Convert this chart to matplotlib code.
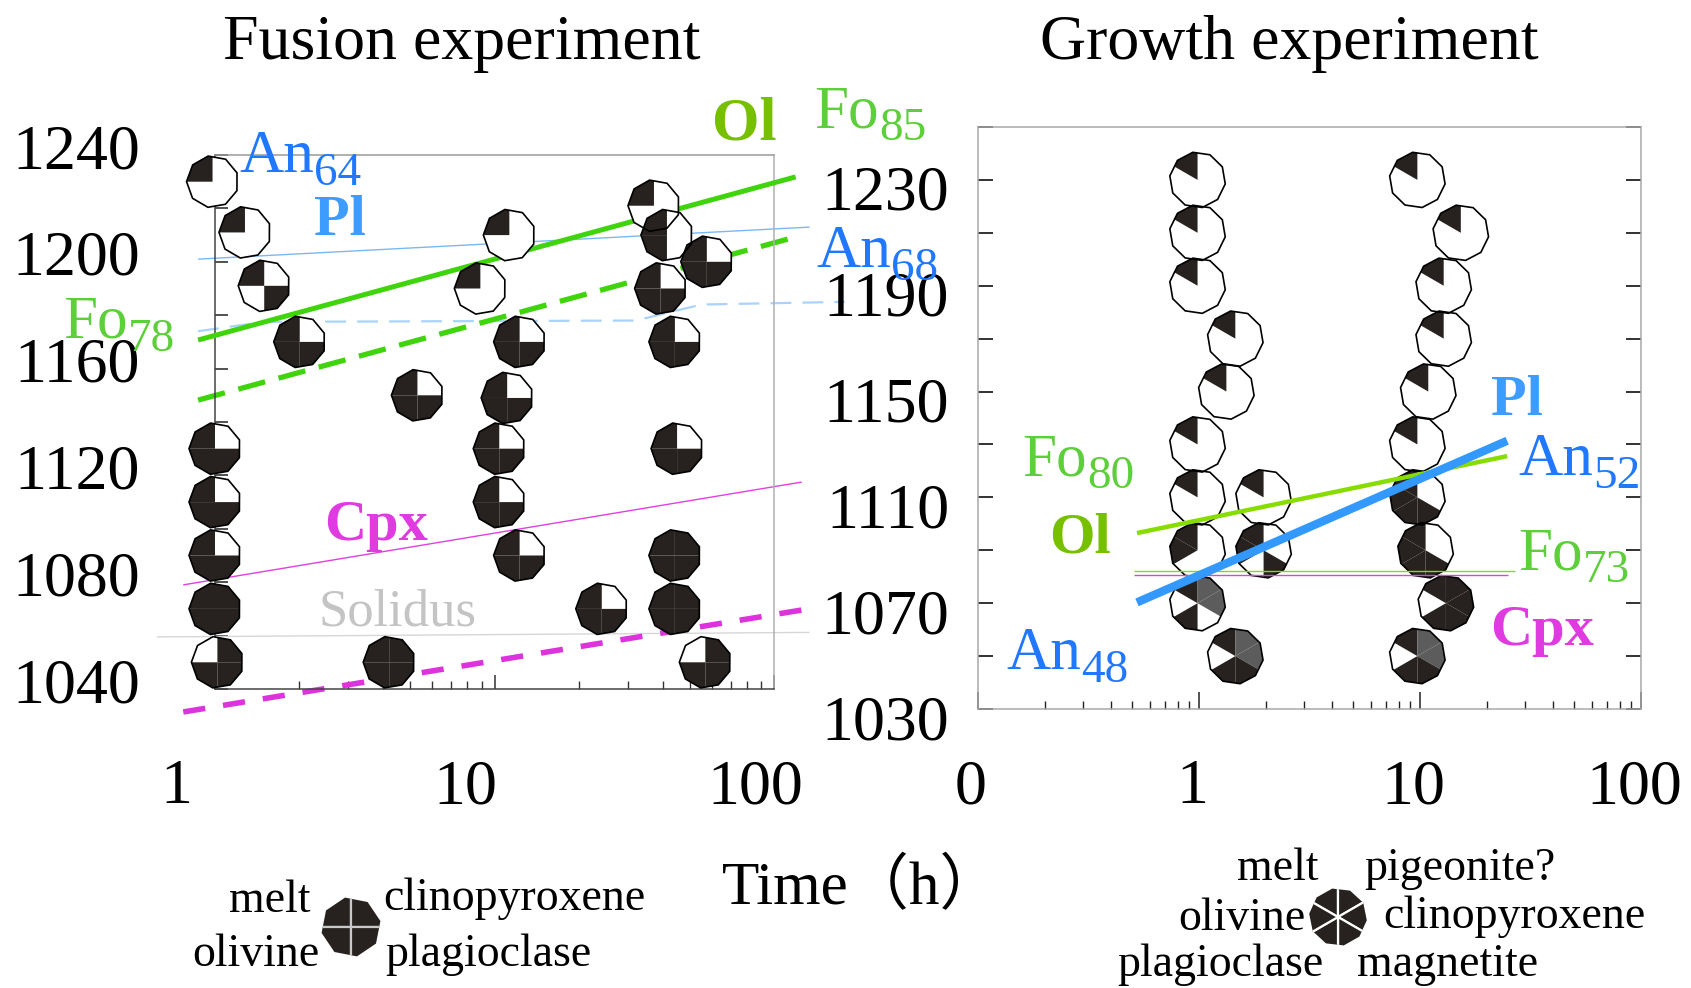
import matplotlib
matplotlib.use('Agg')
import matplotlib.pyplot as plt
from matplotlib.patches import Wedge, RegularPolygon
from matplotlib.transforms import ScaledTranslation

plt.rcParams['font.family'] = ['Liberation Serif', 'Noto Sans CJK JP']
plt.rcParams['lines.scale_dashes'] = False

# ---------------- data: fusion experiment ----------------
fusion_time = [0.98, 1.28, 1.50, 2.01, 5.3, 11.1, 12.3, 11.3, 8.9, 37.2, 41.4, 57.5, 39.3, 44.2,
               45.0, 10.4, 10.4, 12.3, 1.0, 1.0, 1.0, 1.0, 1.02, 4.2, 24.2, 44.2, 44.2, 56.8]
fusion_temp = [1230, 1211, 1191, 1170, 1150, 1149, 1170, 1210, 1190, 1221, 1210, 1200, 1190, 1170,
               1130, 1130, 1110, 1090, 1130, 1110, 1090, 1070, 1050, 1050, 1070, 1090, 1070, 1050]
# phase present (1) / absent (0)
fusion_melt = [1, 1, 1, 1, 1, 1, 1, 1, 1, 1, 1, 1, 1, 1, 1, 1, 1, 1, 1, 1, 1, 1, 0, 1, 1, 1, 1, 0]
fusion_cpx  = [0, 0, 0, 0, 0, 0, 0, 0, 0, 0, 0, 0, 0, 0, 0, 0, 0, 0, 0, 0, 0, 1, 1, 1, 0, 1, 1, 1]
fusion_ol   = [0, 0, 0, 1, 1, 1, 1, 0, 0, 0, 1, 1, 1, 1, 1, 1, 1, 1, 1, 1, 1, 1, 1, 1, 1, 1, 1, 1]
fusion_pl   = [0, 0, 1, 1, 1, 1, 1, 0, 0, 0, 0, 1, 1, 1, 1, 1, 1, 1, 1, 1, 1, 1, 1, 1, 1, 1, 1, 1]

fusion_ol_time = [0.87, 119.5]
fusion_ol_temp = [1170.7, 1231.8]
fusion_ol2_time = [0.87, 119.5]
fusion_ol2_temp = [1148.2, 1209.3]
fusion_pl_time = [0.87, 134]
fusion_pl_temp = [1201, 1213]
fusion_pl2_time = [0.87, 1.5, 32, 55, 179]
fusion_pl2_temp = [1174, 1177.5, 1178, 1184, 1185]
fusion_cpx_time = [0.77, 125.6]
fusion_cpx_temp = [1079, 1117.5]
fusion_cpx2_time = [0.77, 126]
fusion_cpx2_temp = [1031.4, 1069.6]
solidus_time = [0.62, 134]
solidus_temp = [1059.5, 1061.2]

fusion_xticks = [1, 10, 100]
fusion_xlabels = ['1', '10', '100']
fusion_yticks = [1040, 1080, 1120, 1160, 1200, 1240]

# ---------------- data: growth experiment ----------------
growth_time = [0.985, 0.985, 0.985, 1.46, 1.33, 0.985, 0.985, 1.96, 0.985, 1.96, 0.985, 1.46,
               9.73, 15.3, 12.8, 12.8, 10.9, 9.73, 9.73, 10.6, 13.1, 9.73]
growth_temp = [1230, 1210, 1190, 1170, 1150, 1130, 1110, 1110, 1090, 1090, 1070, 1050,
               1230, 1210, 1190, 1170, 1150, 1130, 1110, 1090, 1070, 1050]
# 0 absent (white), 1 present (black), 2 uncertain (grey)
growth_melt = [1, 1, 1, 1, 1, 1, 1, 1, 1, 1, 1, 1, 1, 1, 1, 1, 1, 1, 1, 1, 1, 1]
growth_pig  = [0, 0, 0, 0, 0, 0, 0, 0, 0, 0, 2, 2, 0, 0, 0, 0, 0, 0, 0, 0, 1, 2]
growth_cpx  = [0, 0, 0, 0, 0, 0, 0, 0, 0, 0, 2, 2, 0, 0, 0, 0, 0, 0, 0, 0, 1, 2]
growth_mag  = [0, 0, 0, 0, 0, 0, 0, 0, 0, 1, 0, 1, 0, 0, 0, 0, 0, 0, 1, 1, 1, 1]
growth_pl   = [0, 0, 0, 0, 0, 0, 0, 0, 0, 0, 1, 1, 0, 0, 0, 0, 0, 0, 1, 1, 1, 1]
growth_ol   = [0, 0, 0, 0, 0, 0, 0, 0, 1, 1, 0, 0, 0, 0, 0, 0, 0, 0, 1, 1, 0, 0]

growth_pl_time = [0.524, 24.8]
growth_pl_temp = [1070.3, 1131.4]
growth_ol_time = [0.524, 24.8]
growth_ol_temp = [1096.5, 1125.6]
growth_fo73_time = [0.51, 27]
growth_fo73_temp = [1082, 1082]
growth_cpx_time = [0.51, 25]
growth_cpx_temp = [1080.5, 1080.5]

growth_xticks = [0.1, 1, 10, 100]
growth_xlabels = ['0', '1', '10', '100']
growth_yticks = [1030, 1070, 1110, 1150, 1190, 1230]

# ---------------- figure ----------------
W, H, DPI = 1691, 988, 100
fig = plt.figure(figsize=(W / DPI, H / DPI), dpi=DPI)


def fx(px):
    return px / W


def fy(py):
    return 1 - py / H


DARK = '#27221f'
GREY = '#5c5c5c'
FS_TICK = 46

axL = fig.add_axes([fx(215), fy(689), fx(774) - fx(215), fy(155) - fy(689)])
axR = fig.add_axes([fx(978), fy(709), fx(1641) - fx(978), fy(127) - fy(709)])

for ax in (axL, axR):
    ax.set_xscale('log')
    ax.set_autoscale_on(False)

axL.set_xlim(1, 100)
axL.set_ylim(1040, 1240)
axR.set_xlim(0.1, 100)
axR.set_ylim(1030, 1250)


def pie(ax, x, y, states, angles, r_px, z, nv=9):
    trans = fig.dpi_scale_trans + ScaledTranslation(x, y, ax.transData)
    r = r_px / DPI
    base = RegularPolygon((0, 0), numVertices=nv, radius=r, orientation=0.17,
                          facecolor='white', edgecolor='none', transform=trans,
                          zorder=z, clip_on=False)
    ax.add_patch(base)
    clip = RegularPolygon((0, 0), numVertices=nv, radius=r, orientation=0.17, transform=trans)
    for (a0, a1), s in zip(angles, states):
        if s == 0:
            continue
        w = Wedge((0, 0), r * 1.2, a0, a1, facecolor=DARK if s == 1 else GREY,
                  edgecolor='none', transform=trans, zorder=z + 0.1)
        w.set_clip_path(clip)
        ax.add_patch(w)
    edge = RegularPolygon((0, 0), numVertices=nv, radius=r, orientation=0.17,
                          facecolor='none', edgecolor='black', lw=1.2, transform=trans,
                          zorder=z + 0.2, clip_on=False)
    ax.add_patch(edge)


FUS_ANG = [(90, 180), (0, 90), (180, 270), (270, 360)]
GRO_ANG = [(90, 150), (30, 90), (-30, 30), (270, 330), (210, 270), (150, 210)]


def ylabels(ax, ticks, dx, dy):
    for v in ticks:
        t = ax.get_yaxis_transform() + ScaledTranslation(dx / DPI, dy / DPI, fig.dpi_scale_trans)
        ax.text(0, v, str(v), transform=t, ha='right', va='center_baseline',
                fontsize=FS_TICK, clip_on=False)


def xlabels(ax, ticks, labels, dxs, dy):
    for xv, lab, dx in zip(ticks, labels, dxs):
        t = ax.get_xaxis_transform() + ScaledTranslation(dx / DPI, dy / DPI, fig.dpi_scale_trans)
        ax.text(xv, 0, lab, transform=t, ha='center', va='baseline', fontsize=FS_TICK, clip_on=False)


# ---------------- fusion panel ----------------
for i in range(len(fusion_time)):
    st = [fusion_melt[i], fusion_cpx[i], fusion_ol[i], fusion_pl[i]]
    pie(axL, fusion_time[i], fusion_temp[i], st, FUS_ANG, 26, 5)

kw = dict(clip_on=False, solid_capstyle='butt', dash_capstyle='butt')
axL.plot(solidus_time, solidus_temp, color='#d6d6d6', lw=1.0, zorder=2, **kw)
axL.plot(fusion_pl_time, fusion_pl_temp, color='#7ab8f5', lw=1.0, zorder=2, **kw)
axL.plot(fusion_pl2_time, fusion_pl2_temp, color='#a9d3ff', lw=1.6, dashes=(15, 8), zorder=2, **kw)
axL.plot(fusion_cpx_time, fusion_cpx_temp, color='#e040e0', lw=1.0, zorder=2, **kw)
axL.plot(fusion_cpx2_time, fusion_cpx2_temp, color='#dd33dd', lw=4.0, dashes=(16, 13), zorder=2, **kw)
axL.plot(fusion_ol_time, fusion_ol_temp, color='#3fd40c', lw=3.6, zorder=4, **kw)
axL.plot(fusion_ol2_time, fusion_ol2_temp, color='#3fd40c', lw=3.8, dashes=(20, 10), zorder=2, **kw)

axL.spines['left'].set_color('#444444')
axL.spines['bottom'].set_color('#444444')
axL.spines['top'].set_color('#9a9a9a')
axL.spines['right'].set_color('#b0b0b0')
for s in axL.spines.values():
    s.set_linewidth(1.1)

axL.set_yticks(fusion_yticks, ['' for _ in fusion_yticks])
axL.set_yticks([1060, 1100, 1140, 1180, 1220], minor=True)
axL.tick_params(axis='y', which='both', direction='in', length=9, width=1.2, color='#333333')
axL.set_xticks(fusion_xticks, ['' for _ in fusion_xticks])
axL.tick_params(axis='x', which='major', direction='in', length=10, width=1.1, color='#333333')
axL.tick_params(axis='x', which='minor', direction='in', length=6, width=1.0, color='#333333',
                labelbottom=False)
ylabels(axL, fusion_yticks, -75, 9)
xlabels(axL, fusion_xticks, fusion_xlabels, [-39, -29, -19], -114)

# ---------------- growth panel ----------------
for i in range(len(growth_time)):
    st = [growth_melt[i], growth_pig[i], growth_cpx[i], growth_mag[i], growth_pl[i], growth_ol[i]]
    pie(axR, growth_time[i], growth_temp[i], st, GRO_ANG, 28, 2, nv=10)

axR.plot(growth_fo73_time, growth_fo73_temp, color='#88dd00', lw=1.0, zorder=4, **kw)
axR.plot(growth_cpx_time, growth_cpx_temp, color='#dd44dd', lw=1.0, zorder=4, **kw)
axR.plot(growth_ol_time, growth_ol_temp, color='#88dd00', lw=3.2, zorder=4, **kw)
axR.plot(growth_pl_time, growth_pl_temp, color='#3399ff', lw=6.0, zorder=4, **kw)

for s in axR.spines.values():
    s.set_color('#a8a8a8')
    s.set_linewidth(1.1)
axR.set_yticks(growth_yticks, ['' for _ in growth_yticks])
axR.set_yticks([1050, 1090, 1130, 1170, 1210, 1250], minor=True)
axR.tick_params(axis='y', which='both', direction='in', length=11, width=1.3, color='#222222',
                left=True, right=True)
axR.set_xticks(growth_xticks, ['' for _ in growth_xticks])
axR.tick_params(axis='x', which='major', direction='in', length=12, width=1.1, color='#222222')
axR.tick_params(axis='x', which='minor', direction='in', length=6, width=1.0, color='#222222',
                labelbottom=False)
ylabels(axR, growth_yticks, -29, -8)
xlabels(axR, growth_xticks, growth_xlabels, [-7, -7, -7, -7], -94)

# ---------------- titles and labels ----------------
fig.text(fx(462), fy(59), 'Fusion experiment', fontsize=46, ha='center', va='baseline')
fig.text(fx(1289), fy(59), 'Growth experiment', fontsize=46, ha='center', va='baseline')
fig.text(fx(862), fy(904), 'Time（h）', fontsize=44, ha='center', va='baseline')

BLUE = '#1f78ff'
BLUE_B = '#3d9cff'
GREEN = '#5ccf3a'
GREEN_B = '#77c000'
MAG = '#e03be0'
FS_LAB = 44
FS_SUB = 34


def lab(x, y, s, color, ha='left', bold=False, size=FS_LAB, sub=None):
    t = fig.text(fx(x), fy(y), s, color=color, ha=ha, va='baseline', fontsize=size,
                 fontweight='bold' if bold else 'normal')
    if sub is not None:
        fig.add_artist(plt.Annotation(sub, xy=(1, 0), xycoords=t, xytext=(0.5, 0),
                                      textcoords='offset points', color=color,
                                      ha='left', va='baseline', fontsize=FS_SUB))


lab(239, 172, 'An', BLUE, sub='64')
lab(340, 235, 'Pl', BLUE_B, ha='center', bold=True, size=42)
lab(744, 140, 'Ol', GREEN_B, ha='center', bold=True, size=44)
lab(814, 127, 'Fo', GREEN, sub='85')
lab(816, 267, 'An', BLUE, sub='68')
lab(63, 338, 'Fo', GREEN, sub='78')
lab(376, 540, 'Cpx', MAG, ha='center', bold=True, size=42)
lab(398, 625, 'Solidus', '#c4c4c4', ha='center', size=38)

lab(1517, 415, 'Pl', BLUE_B, ha='center', bold=True, size=42)
lab(1518, 475, 'An', BLUE, sub='52')
lab(1022, 475, 'Fo', GREEN, sub='80')
lab(1080, 552, 'Ol', GREEN_B, ha='center', bold=True, size=42)
lab(1518, 569, 'Fo', GREEN, sub='73')
lab(1542, 645, 'Cpx', MAG, ha='center', bold=True, size=42)
lab(1006, 669, 'An', BLUE, sub='48')

# ---------------- legends ----------------
FS_LEG = 33


def legend_pie(cx, cy, angles, r_px, edge, nv):
    trans = fig.dpi_scale_trans + ScaledTranslation(fx(cx), fy(cy), fig.transFigure)
    r = r_px / DPI
    clip = RegularPolygon((0, 0), numVertices=nv, radius=r, orientation=0.2, transform=trans)
    for a0, a1 in angles:
        w = Wedge((0, 0), r * 1.2, a0, a1, facecolor=DARK, edgecolor=edge, lw=1.6, transform=trans)
        w.set_clip_path(clip)
        fig.add_artist(w)


legend_pie(351, 927, FUS_ANG, 30, '#c8c8c8', 8)
fig.text(fx(310), fy(912), 'melt', fontsize=FS_LEG, ha='right', va='baseline')
fig.text(fx(320), fy(966), 'olivine', fontsize=FS_LEG, ha='right', va='baseline')
fig.text(fx(383), fy(910), 'clinopyroxene', fontsize=FS_LEG, ha='left', va='baseline')
fig.text(fx(385), fy(966), 'plagioclase', fontsize=FS_LEG, ha='left', va='baseline')

legend_pie(1338, 917, GRO_ANG, 29, 'white', 10)
fig.text(fx(1318), fy(880), 'melt', fontsize=FS_LEG, ha='right', va='baseline')
fig.text(fx(1364), fy(880), 'pigeonite?', fontsize=FS_LEG, ha='left', va='baseline')
fig.text(fx(1305), fy(930), 'olivine', fontsize=FS_LEG, ha='right', va='baseline')
fig.text(fx(1383), fy(928), 'clinopyroxene', fontsize=FS_LEG, ha='left', va='baseline')
fig.text(fx(1324), fy(976), 'plagioclase', fontsize=FS_LEG, ha='right', va='baseline')
fig.text(fx(1357), fy(976), 'magnetite', fontsize=FS_LEG, ha='left', va='baseline')

fig.savefig('out.png', dpi=DPI)
